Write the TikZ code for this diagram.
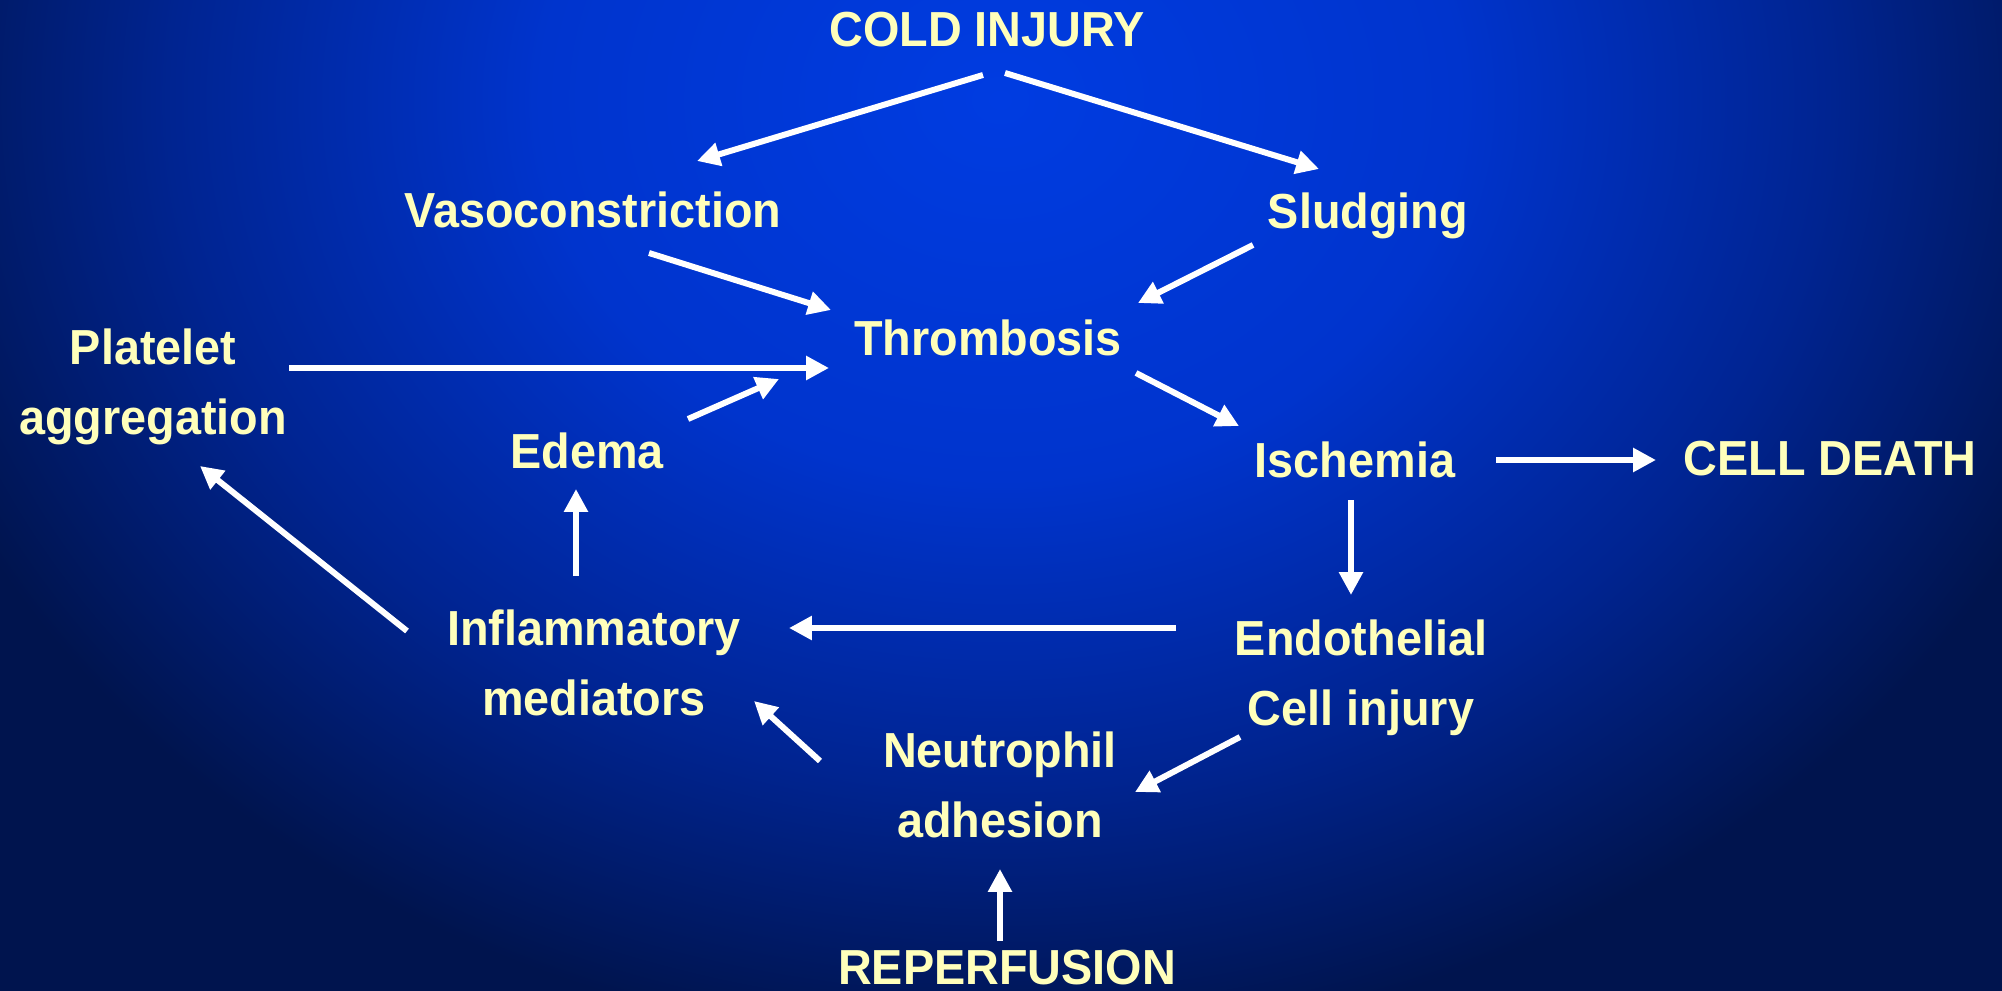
\documentclass[tikz,border=0pt]{standalone}
\usepackage{fontspec}
\setmainfont{Liberation Sans}[FakeStretch=0.95]
\usepackage{xcolor}
\usepackage{tikz}
\usetikzlibrary{calc,arrows.meta}
\definecolor{slideBlue}{RGB}{0,60,225}
\definecolor{slideBlueSoft}{RGB}{0,52,205}
\definecolor{slideBlueMid}{RGB}{0,36,145}
\definecolor{slideNavy}{RGB}{0,20,78}
\definecolor{slideText}{RGB}{255,255,187}
\pgfdeclareradialshading{slideglow}{\pgfpoint{0bp}{0bp}}{color(0bp)=(slideBlue); color(10bp)=(slideBlueSoft); color(18bp)=(slideBlueMid); color(25bp)=(slideNavy); color(50bp)=(slideNavy)}

\begin{document}
\begin{tikzpicture}[x=0.01cm,y=-0.01cm,
  lbl/.style={text=slideText, font=\fontsize{14}{19.9}\selectfont\bfseries, align=center, inner sep=0pt},
  flow/.style={white, line width=1.7pt, -{Triangle[length=6.5pt,width=6.5pt]}}]
% background
\fill[slideNavy] (0,0) rectangle (2002,991);
\begin{scope}
\clip (0,0) rectangle (2002,991);
\shade[shading=slideglow] (-150,-850) rectangle (2150,1050);
\end{scope}
\useasboundingbox (0,0) rectangle (2002,991);

% labels
\node[lbl] (cold) at (987,30) {COLD INJURY};
\node[lbl] (vaso) at (593,210) {Vasoconstriction};
\node[lbl] (sludging) at (1368,216) {Sludging};
\node[lbl] (thrombosis) at (988,338) {Thrombosis};
\node[lbl] (platelet) at (153,387) {Platelet\\aggregation};
\node[lbl] (edema) at (587,451) {Edema};
\node[lbl] (ischemia) at (1355,460) {Ischemia};
\node[lbl] (celldeath) at (1830,459) {CELL DEATH};
\node[lbl] (inflam) at (594,663) {Inflammatory\\mediators};
\node[lbl] (endoth) at (1361,678) {Endothelial\\Cell injury};
\node[lbl] (neutro) at (1000,785) {Neutrophil\\adhesion};
\node[lbl] (reperf) at (1007,968) {REPERFUSION};

% arrows
\draw[flow] ($(cold)+(-4,45)$) -- ($(vaso)+(104,-49)$);
\draw[flow] ($(cold)+(18,43)$) -- ($(sludging)+(-49,-47)$);
\draw[flow] ($(vaso)+(56,43)$) -- ($(thrombosis)+(-157,-28)$);
\draw[flow] ($(sludging)+(-115,29)$) -- ($(thrombosis)+(150,-35)$);
\draw[flow] ($(platelet)+(136,-19)$) -- ($(thrombosis)+(-159,30)$);
\draw[flow] ($(edema)+(101,-32)$) -- ($(thrombosis)+(-209,41)$);
\draw[flow] ($(thrombosis)+(148,35)$) -- ($(ischemia)+(-116,-34)$);
\draw[flow] ($(ischemia)+(141,0)$) -- ($(celldeath)+(-174,1)$);
\draw[flow] ($(ischemia)+(-4,40)$) -- ($(endoth)+(-10,-83)$);
\draw[flow] ($(endoth)+(-185,-50)$) -- ($(inflam)+(195,-35)$);
\draw[flow] ($(inflam)+(-18,-87)$) -- ($(edema)+(-11,38)$);
\draw[flow] ($(inflam)+(-187,-32)$) -- ($(platelet)+(47,79)$);
\draw[flow] ($(endoth)+(-121,59)$) -- ($(neutro)+(135,7)$);
\draw[flow] ($(neutro)+(-180,-24)$) -- ($(inflam)+(160,38)$);
\draw[flow] ($(reperf)+(-7,-27)$) -- ($(neutro)+(0,84)$);
\end{tikzpicture}
\end{document}
